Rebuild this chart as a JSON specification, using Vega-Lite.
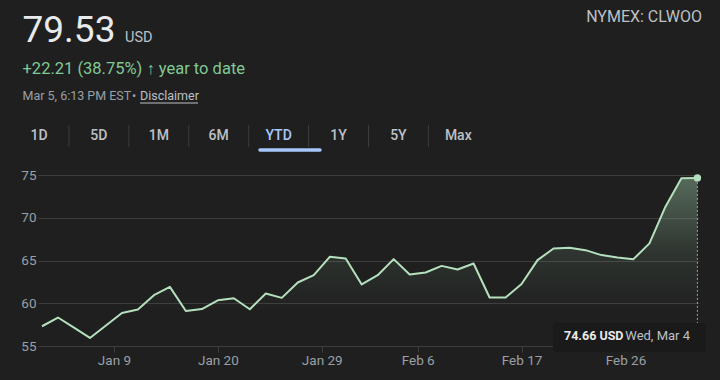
{
  "$schema": "https://vega.github.io/schema/vega-lite/v6.json",
  "width": 661,
  "height": 171,
  "autosize": {"type": "none"},
  "padding": {"left": 38, "top": 175, "right": 21, "bottom": 34},
  "background": "#1f1f1f",
  "config": {
    "view": {"stroke": null},
    "font": "Roboto",
    "text": {"font": "Roboto"}
  },
  "datasets": {
    "prices": [
      {"i": 0, "date": "2026-01-02", "close": 57.31},
      {"i": 1, "date": "2026-01-05", "close": 58.33},
      {"i": 2, "date": "2026-01-06", "close": 57.15},
      {"i": 3, "date": "2026-01-07", "close": 55.94},
      {"i": 4, "date": "2026-01-08", "close": 57.4},
      {"i": 5, "date": "2026-01-09", "close": 58.87},
      {"i": 6, "date": "2026-01-12", "close": 59.26},
      {"i": 7, "date": "2026-01-13", "close": 60.94},
      {"i": 8, "date": "2026-01-14", "close": 61.92},
      {"i": 9, "date": "2026-01-15", "close": 59.1},
      {"i": 10, "date": "2026-01-16", "close": 59.32},
      {"i": 11, "date": "2026-01-20", "close": 60.35},
      {"i": 12, "date": "2026-01-21", "close": 60.59},
      {"i": 13, "date": "2026-01-22", "close": 59.3},
      {"i": 14, "date": "2026-01-23", "close": 61.14},
      {"i": 15, "date": "2026-01-26", "close": 60.63},
      {"i": 16, "date": "2026-01-27", "close": 62.43},
      {"i": 17, "date": "2026-01-28", "close": 63.28},
      {"i": 18, "date": "2026-01-29", "close": 65.43},
      {"i": 19, "date": "2026-01-30", "close": 65.24},
      {"i": 20, "date": "2026-02-02", "close": 62.2},
      {"i": 21, "date": "2026-02-03", "close": 63.28},
      {"i": 22, "date": "2026-02-04", "close": 65.16},
      {"i": 23, "date": "2026-02-05", "close": 63.36},
      {"i": 24, "date": "2026-02-06", "close": 63.6},
      {"i": 25, "date": "2026-02-09", "close": 64.37},
      {"i": 26, "date": "2026-02-10", "close": 63.95},
      {"i": 27, "date": "2026-02-11", "close": 64.65},
      {"i": 28, "date": "2026-02-12", "close": 60.67},
      {"i": 29, "date": "2026-02-13", "close": 60.67},
      {"i": 30, "date": "2026-02-17", "close": 62.25},
      {"i": 31, "date": "2026-02-18", "close": 65.04},
      {"i": 32, "date": "2026-02-19", "close": 66.41},
      {"i": 33, "date": "2026-02-20", "close": 66.48},
      {"i": 34, "date": "2026-02-23", "close": 66.21},
      {"i": 35, "date": "2026-02-24", "close": 65.63},
      {"i": 36, "date": "2026-02-25", "close": 65.36},
      {"i": 37, "date": "2026-02-26", "close": 65.16},
      {"i": 38, "date": "2026-02-27", "close": 67.0},
      {"i": 39, "date": "2026-03-02", "close": 71.29},
      {"i": 40, "date": "2026-03-03", "close": 74.62},
      {"i": 41, "date": "2026-03-04", "close": 74.66}
    ],
    "tabs": [
      {"tab": "1D"}, {"tab": "5D"}, {"tab": "1M"}, {"tab": "6M"},
      {"tab": "YTD"}, {"tab": "1Y"}, {"tab": "5Y"}, {"tab": "Max"}
    ],
    "one": [{}]
  },
  "layer": [
    {
      "data": {"name": "prices"},
      "encoding": {
        "x": {
          "field": "i",
          "type": "quantitative",
          "scale": {"domain": [-0.25, 41.1], "nice": false, "zero": false},
          "axis": {
            "title": null,
            "values": [4.5, 11, 17.5, 23.5, 30, 36.5],
            "labelExpr": "datum.value == 4.5 ? 'Jan 9' : datum.value == 11 ? 'Jan 20' : datum.value == 17.5 ? 'Jan 29' : datum.value == 23.5 ? 'Feb 6' : datum.value == 30 ? 'Feb 17' : 'Feb 26'",
            "grid": false,
            "domain": false,
            "ticks": true,
            "tickSize": 6,
            "tickColor": "#3c3c3c",
            "labelPadding": 1,
            "labelColor": "#9aa0a6",
            "labelFontSize": 13.5,
            "labelFont": "Roboto"
          }
        },
        "y": {
          "field": "close",
          "type": "quantitative",
          "scale": {"domain": [55, 75], "nice": false, "zero": false},
          "axis": {
            "title": null,
            "values": [55, 60, 65, 70, 75],
            "grid": true,
            "gridColor": "#3c3c3c",
            "gridWidth": 1,
            "domain": false,
            "ticks": false,
            "labelPadding": 2,
            "labelColor": "#9aa0a6",
            "labelFontSize": 13.5,
            "labelFont": "Roboto"
          }
        }
      },
      "layer": [
        {
          "mark": {
            "type": "area",
            "color": {
              "gradient": "linear",
              "x1": 0, "y1": 0, "x2": 0, "y2": 1,
              "stops": [
                {"offset": 0, "color": "rgba(168,218,181,0.4)"},
                {"offset": 0.45, "color": "rgba(168,218,181,0.11)"},
                {"offset": 0.8, "color": "rgba(168,218,181,0)"}
              ]
            }
          },
          "encoding": {"y2": {"datum": 55}}
        },
        {
          "mark": {"type": "line", "color": "#b5e0bd", "strokeWidth": 2, "strokeJoin": "round"}
        },
        {
          "transform": [{"filter": "datum.i == 41"}],
          "mark": {"type": "rule", "color": "#9aa0a6", "strokeWidth": 1, "strokeDash": [2, 2]},
          "encoding": {"y2": {"datum": 55}}
        },
        {
          "transform": [{"filter": "datum.i == 41"}],
          "mark": {"type": "point", "filled": true, "color": "#b5e0bd", "size": 55, "opacity": 1}
        }
      ]
    },
    {
      "data": {"name": "one"},
      "mark": {"type": "rect", "color": "#1a1a1a", "cornerRadius": 4},
      "encoding": {
        "x": {"value": 515}, "x2": {"value": 668},
        "y": {"value": 148}, "y2": {"value": 177}
      }
    },
    {
      "data": {"name": "one"},
      "mark": {"type": "text", "text": "74.66 USD", "align": "left", "baseline": "middle", "fontSize": 12.5, "fontWeight": "bold", "color": "#e8eaed"},
      "encoding": {"x": {"value": 526}, "y": {"value": 161}}
    },
    {
      "data": {"name": "one"},
      "mark": {"type": "text", "text": "Wed, Mar 4", "align": "right", "baseline": "middle", "fontSize": 13, "color": "#bdc1c6"},
      "encoding": {"x": {"value": 652}, "y": {"value": 161}}
    },
    {
      "data": {"name": "tabs"},
      "encoding": {
        "x": {"field": "tab", "type": "nominal", "sort": null, "scale": {"type": "point", "range": [1, 420.3], "padding": 0}, "axis": null}
      },
      "layer": [
        {
          "mark": {"type": "text", "baseline": "middle", "align": "center", "fontSize": 14, "fontWeight": 500},
          "encoding": {
            "y": {"value": -39.3},
            "text": {"field": "tab"},
            "color": {"condition": {"test": "datum.tab === 'YTD'", "value": "#a8c7fa"}, "value": "#bdc1c6"}
          }
        },
        {
          "transform": [{"filter": "datum.tab !== 'Max'"}],
          "mark": {"type": "rule", "color": "#3c3c3c", "strokeWidth": 1, "xOffset": 30},
          "encoding": {"y": {"value": -50}, "y2": {"value": -28}}
        }
      ]
    },
    {
      "data": {"name": "one"},
      "mark": {"type": "rule", "color": "#a8c7fa", "strokeWidth": 3.5, "strokeCap": "round"},
      "encoding": {"x": {"value": 222}, "x2": {"value": 282}, "y": {"value": -25}}
    },
    {
      "data": {"name": "one"},
      "mark": {"type": "text", "text": "79.53", "align": "left", "baseline": "alphabetic", "fontSize": 37, "color": "#e8eaed"},
      "encoding": {"x": {"value": -15.5}, "y": {"value": -133}}
    },
    {
      "data": {"name": "one"},
      "mark": {"type": "text", "text": "USD", "align": "left", "baseline": "alphabetic", "fontSize": 14.5, "color": "#bdc1c6"},
      "encoding": {"x": {"value": 87}, "y": {"value": -133}}
    },
    {
      "data": {"name": "one"},
      "mark": {"type": "text", "text": "+22.21 (38.75%) ↑ year to date", "align": "left", "baseline": "alphabetic", "fontSize": 16.5, "color": "#81c995"},
      "encoding": {"x": {"value": -15.5}, "y": {"value": -101}}
    },
    {
      "data": {"name": "one"},
      "mark": {"type": "text", "text": "Mar 5, 6:13 PM EST", "align": "left", "baseline": "alphabetic", "fontSize": 12.5, "color": "#9aa0a6"},
      "encoding": {"x": {"value": -15.5}, "y": {"value": -75}}
    },
    {
      "data": {"name": "one"},
      "mark": {"type": "text", "text": "•", "align": "center", "baseline": "alphabetic", "fontSize": 12.5, "color": "#9aa0a6"},
      "encoding": {"x": {"value": 96}, "y": {"value": -75}}
    },
    {
      "data": {"name": "one"},
      "mark": {"type": "text", "text": "Disclaimer", "align": "left", "baseline": "alphabetic", "fontSize": 12.5, "color": "#bdc1c6"},
      "encoding": {"x": {"value": 102}, "y": {"value": -75}}
    },
    {
      "data": {"name": "one"},
      "mark": {"type": "rule", "color": "#bdc1c6", "strokeWidth": 1},
      "encoding": {"x": {"value": 102}, "x2": {"value": 160}, "y": {"value": -72}}
    },
    {
      "data": {"name": "one"},
      "mark": {"type": "text", "text": "NYMEX: CLWOO", "align": "right", "baseline": "alphabetic", "fontSize": 16, "color": "#bdc1c6"},
      "encoding": {"x": {"value": 664}, "y": {"value": -153}}
    }
  ],
  "resolve": {"scale": {"x": "independent", "y": "independent", "color": "independent"}}
}
